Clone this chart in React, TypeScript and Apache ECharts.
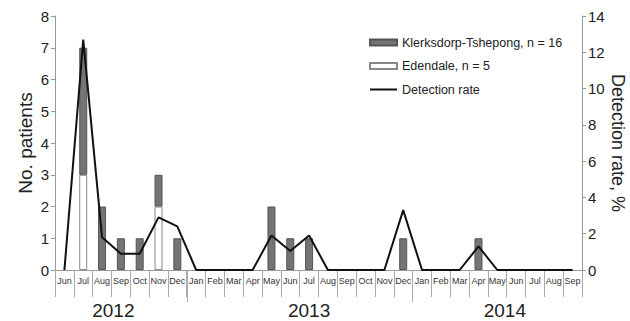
import React, { useEffect, useRef } from "react";
import * as echarts from "echarts";

const months = [
  "Jun", "Jul", "Aug", "Sep", "Oct", "Nov", "Dec",
  "Jan", "Feb", "Mar", "Apr", "May", "Jun", "Jul", "Aug", "Sep", "Oct", "Nov", "Dec",
  "Jan", "Feb", "Mar", "Apr", "May", "Jun", "Jul", "Aug", "Sep",
];
const years = ["2012", "2013", "2014"];
const monthsPerYear = [7, 12, 9];

const klerksdorp = [0, 4, 2, 1, 1, 1, 1, 0, 0, 0, 0, 2, 1, 1, 0, 0, 0, 0, 1, 0, 0, 0, 1, 0, 0, 0, 0, 0];
const edendale = [0, 3, 0, 0, 0, 2, 0, 0, 0, 0, 0, 0, 0, 0, 0, 0, 0, 0, 0, 0, 0, 0, 0, 0, 0, 0, 0, 0];
const detectionRate = [0, 12.7, 1.8, 0.9, 0.9, 2.9, 2.4, 0, 0, 0, 0, 1.9, 1.05, 1.9, 0, 0, 0, 0, 3.3, 0, 0, 0, 1.3, 0, 0, 0, 0, 0];

const FONT = "Liberation Sans, Arial, sans-serif";

export default function App() {
  const ref = useRef<HTMLDivElement>(null);
  useEffect(() => {
    if (!ref.current) return;
    const chart = echarts.init(ref.current, undefined, { renderer: "svg" });

    const boundaries: number[] = [];
    let acc = 0;
    monthsPerYear.forEach((n, i) => {
      acc += n;
      if (i < monthsPerYear.length - 1) boundaries.push(acc);
    });
    const total = acc;
    // where each year label sits, in month units along the axis
    const yearLabelAt = [3.1, 13.5, 23.9];

    const toBar = (arr: number[]) => arr.map((v) => (v === 0 ? null : v));

    chart.setOption({
      animation: false,
      textStyle: { fontFamily: FONT },
      grid: { left: 55, right: 48, top: 16, bottom: 51, outerBoundsMode: "none", containLabel: false },
      legend: {
        orient: "vertical",
        left: 364,
        top: 31,
        itemWidth: 27,
        itemHeight: 6,
        itemGap: 10.5,
        textStyle: { fontFamily: FONT, fontSize: 12.5, color: "#222" },
        data: [
          { name: "Klerksdorp-Tshepong, n = 16", icon: "rect" },
          { name: "Edendale, n = 5", icon: "rect" },
          { name: "Detection rate", itemStyle: { opacity: 0 } },
        ],
      },
      xAxis: [
        {
          type: "category",
          data: months,
          boundaryGap: true,
          axisLine: { lineStyle: { color: "#999", width: 1 } },
          axisTick: { show: true, interval: 0, length: 27, lineStyle: { color: "#aaa" } },
          axisLabel: { interval: 0, fontSize: 9, color: "#333", margin: 6, fontFamily: FONT },
        },
        {
          type: "value",
          min: 0,
          max: total,
          position: "bottom",
          axisLine: { show: false },
          splitLine: { show: false },
          axisTick: {
            show: true,
            customValues: boundaries,
            length: 32,
            lineStyle: { color: "#aaa" },
          },
          axisLabel: {
            customValues: yearLabelAt,
            margin: 31,
            fontSize: 19,
            color: "#222",
            fontFamily: FONT,
            formatter: (v: number) => {
              const i = yearLabelAt.findIndex((c) => Math.abs(c - v) < 1e-6);
              return i >= 0 ? years[i] : "";
            },
          },
        },
      ],
      yAxis: [
        {
          type: "value",
          min: 0,
          max: 8,
          interval: 1,
          name: "No. patients",
          nameLocation: "middle",
          nameGap: 20,
          nameMoveOverlap: false,
          nameTextStyle: { fontSize: 19, color: "#222", fontFamily: FONT },
          axisLine: { show: true, lineStyle: { color: "#999" } },
          axisTick: { show: true, length: 4, lineStyle: { color: "#999" } },
          axisLabel: { fontSize: 15, color: "#222", margin: 6, fontFamily: FONT },
          splitLine: { show: false },
        },
        {
          type: "value",
          min: 0,
          max: 14,
          interval: 2,
          position: "right",
          name: "Detection rate, %",
          nameLocation: "middle",
          nameRotate: -90,
          nameGap: 27,
          nameMoveOverlap: false,
          nameTextStyle: { fontSize: 18, color: "#222", fontFamily: FONT },
          axisLine: { show: true, lineStyle: { color: "#999" } },
          axisTick: { show: true, length: 4, lineStyle: { color: "#999" } },
          axisLabel: { fontSize: 15, color: "#222", margin: 6, fontFamily: FONT },
          splitLine: { show: false },
        },
      ],
      series: [
        {
          name: "Edendale, n = 5",
          type: "bar",
          stack: "p",
          barWidth: 8,
          data: toBar(edendale),
          itemStyle: { color: "#ffffff", borderColor: "#888", borderWidth: 1 },
        },
        {
          name: "Klerksdorp-Tshepong, n = 16",
          type: "bar",
          stack: "p",
          barWidth: 8,
          data: toBar(klerksdorp),
          itemStyle: { color: "#747474", borderColor: "#555", borderWidth: 1 },
        },
        {
          name: "Detection rate",
          type: "line",
          yAxisIndex: 1,
          data: detectionRate,
          showSymbol: false,
          symbol: "none",
          lineStyle: { color: "#111", width: 2 },
          itemStyle: { color: "#111" },
        },
      ],
    });
    return () => chart.dispose();
  }, []);
  return <div ref={ref} style={{ width: 630, height: 321, position: "absolute", left: 0, top: 0 }} />;
}
